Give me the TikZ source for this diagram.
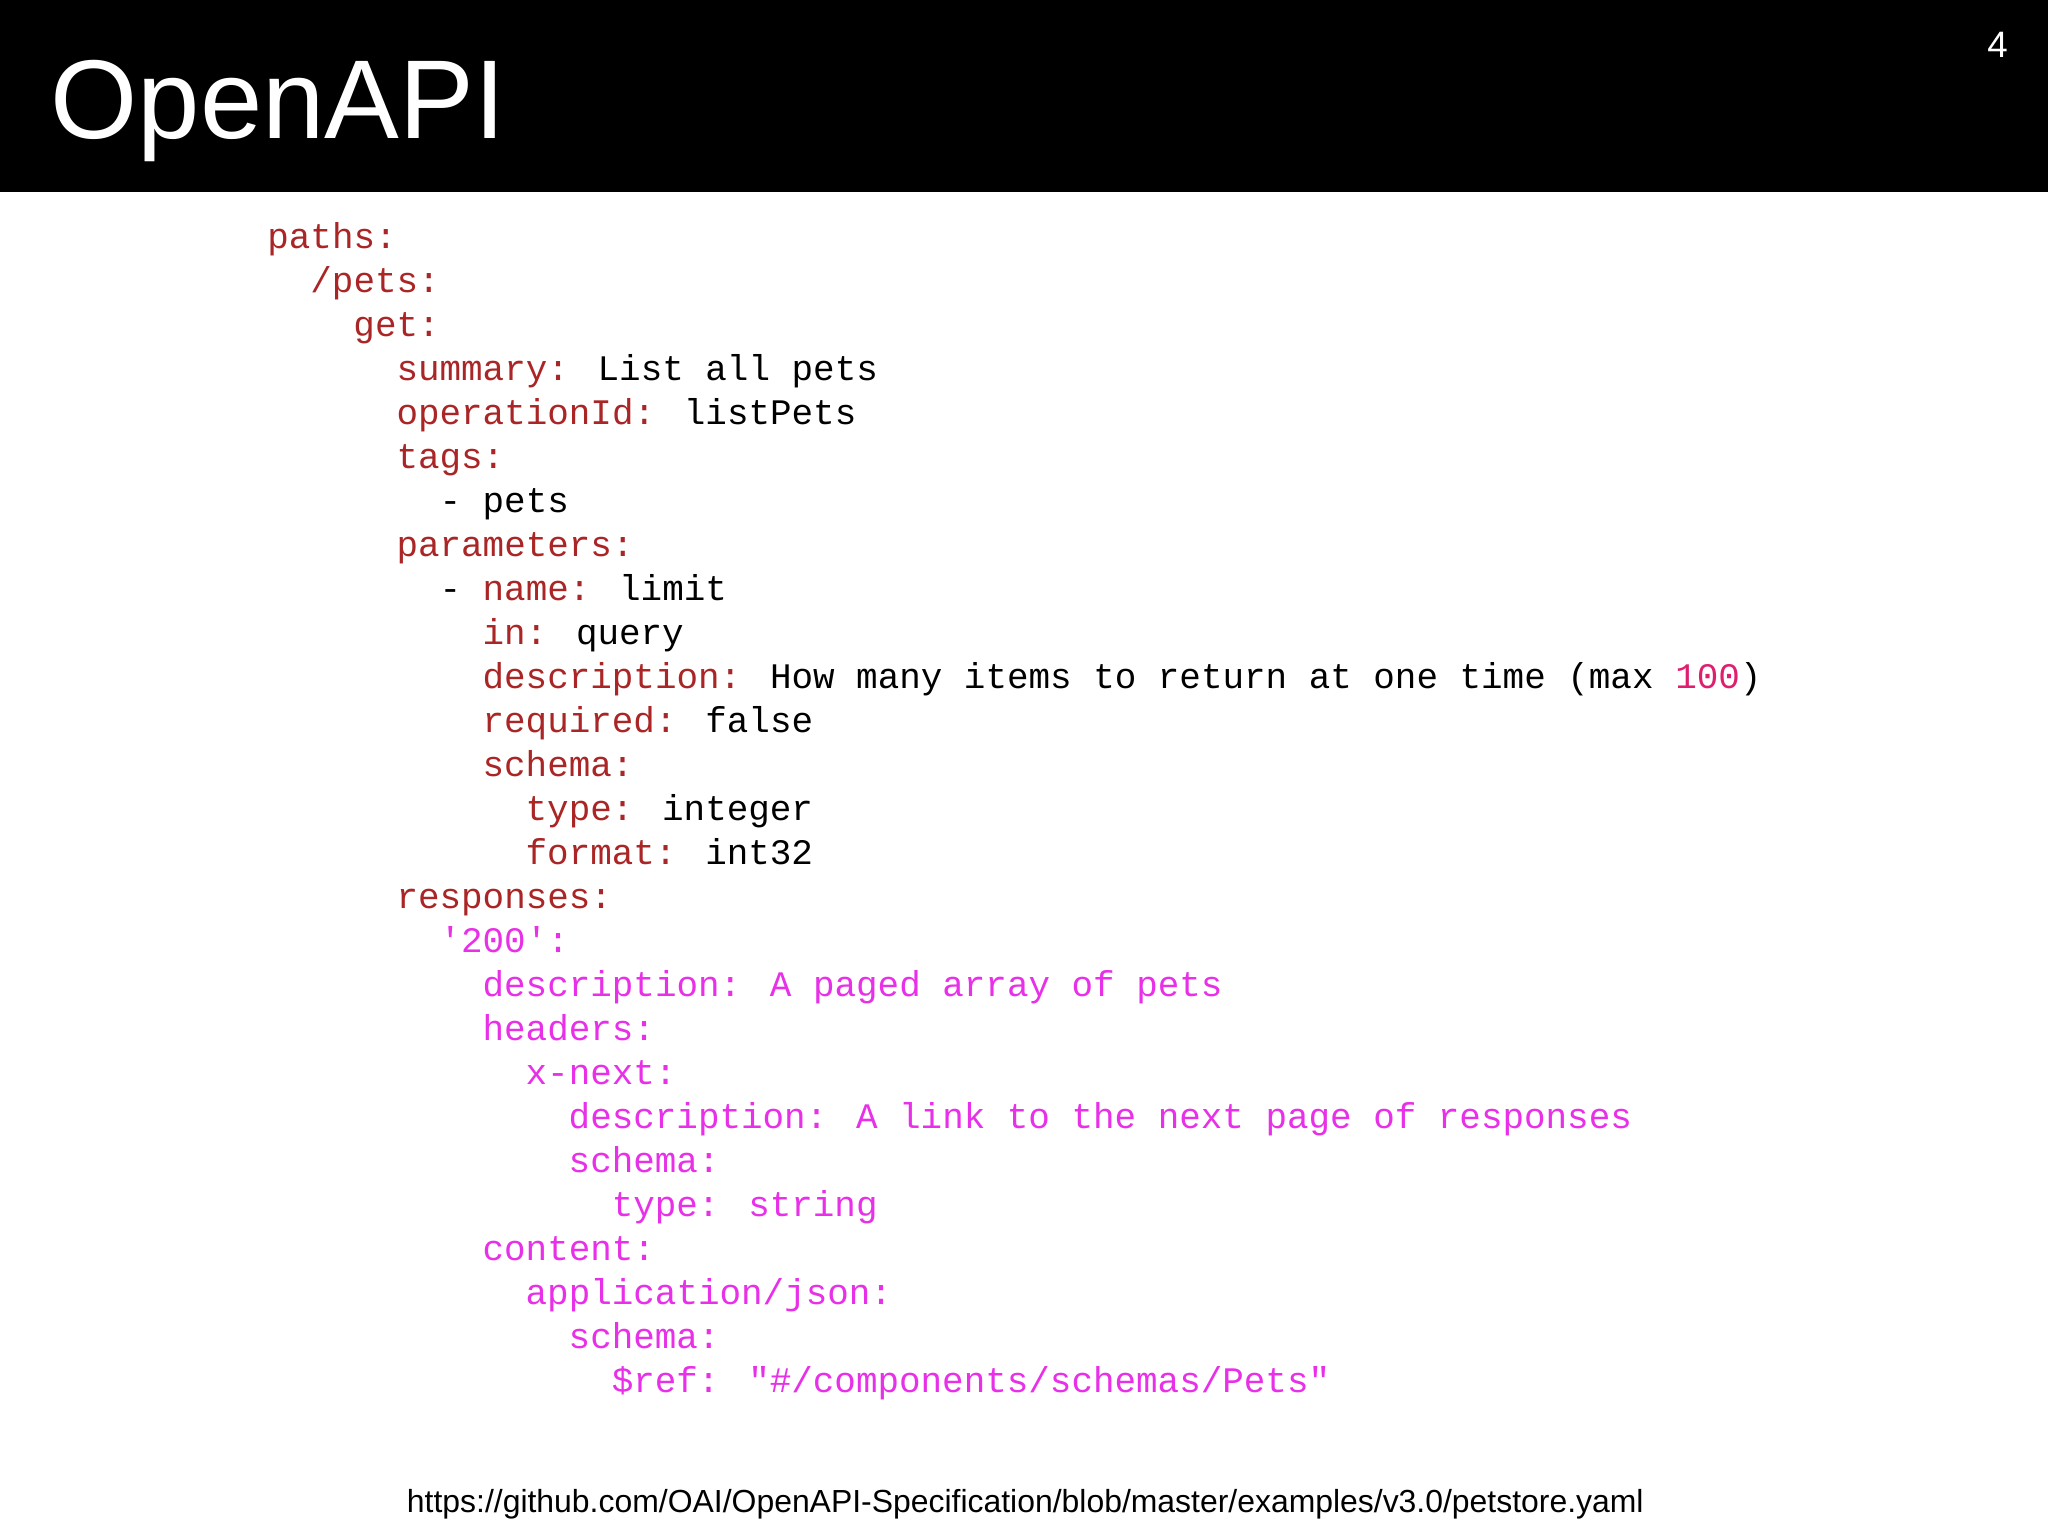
\documentclass[tikz,border=0pt]{standalone}
\usepackage{fontspec}
\setmainfont{Liberation Sans}
\newfontfamily\codefont{Liberation Mono}
\definecolor{keyc}{RGB}{170,38,38}
\definecolor{magc}{RGB}{232,48,232}
\definecolor{numc}{RGB}{222,30,110}
\newcommand{\K}[1]{\textcolor{keyc}{#1}}
\newcommand{\M}[1]{\textcolor{magc}{#1}}
\begin{document}
\begin{tikzpicture}[x=0.01cm,y=-0.01cm,
  code/.style={anchor=base west,inner sep=0,font=\codefont\fontsize{7.82pt}{8pt}\selectfont}]
\useasboundingbox (0,0) rectangle (1568,1176);
\fill[white] (0,0) rectangle (1568,1176);
\fill[black] (0,0) rectangle (1568,147);
\node[anchor=base west,inner sep=0,text=white,font=\fontsize{24.4pt}{28pt}\selectfont] (title) at (38,106) {OpenAPI};
\node[anchor=base east,inner sep=0,text=white,font=\fontsize{8pt}{9pt}\selectfont] (pg) at (1538,44) {4};
\def\cw{16.48}
\foreach \i/\ind/\txt in {
 0/0/{\K{paths:}},
 1/2/{\K{/pets:}},
 2/4/{\K{get:}},
 3/6/{\K{summary:} List all pets},
 4/6/{\K{operationId:} listPets},
 5/6/{\K{tags:}},
 6/8/{- pets},
 7/6/{\K{parameters:}},
 8/8/{- \K{name:} limit},
 9/10/{\K{in:} query},
 10/10/{\K{description:} How many items to return at one time (max \textcolor{numc}{100})},
 11/10/{\K{required:} false},
 12/10/{\K{schema:}},
 13/12/{\K{type:} integer},
 14/12/{\K{format:} int32},
 15/6/{\K{responses:}},
 16/8/{\M{'200':}},
 17/10/{\M{description: A paged array of pets}},
 18/10/{\M{headers:}},
 19/12/{\M{x-next:}},
 20/14/{\M{description: A link to the next page of responses}},
 21/14/{\M{schema:}},
 22/16/{\M{type: string}},
 23/10/{\M{content:}},
 24/12/{\M{application/json:}},
 25/14/{\M{schema:}},
 26/16/{\M{\$ref: "\#/components/schemas/Pets"}}}
{\node[code] (line\i) at ({204+\ind*\cw},{190+\i*33.7}) {\txt};}
\node[anchor=base,inner sep=0,font=\fontsize{6.95pt}{8pt}\selectfont] (url) at (785,1158) {https://github.com/OAI/OpenAPI-Specification/blob/master/examples/v3.0/petstore.yaml};
\end{tikzpicture}
\end{document}
